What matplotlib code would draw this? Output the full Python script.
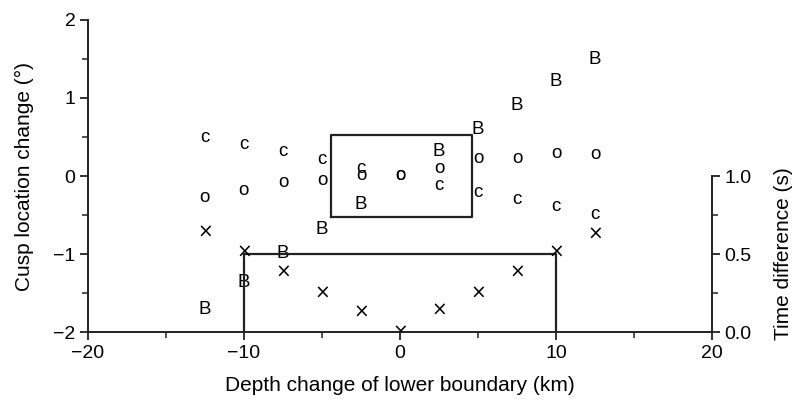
import matplotlib.pyplot as plt
from matplotlib.ticker import MultipleLocator

plt.rcParams["font.family"] = ["Liberation Sans", "DejaVu Sans"]

depth = [-12.5, -10, -7.5, -5, -2.5, 0, 2.5, 5, 7.5, 10, 12.5]
cusp_c = [0.50, 0.40, 0.31, 0.21, 0.10, 0.01, -0.12, -0.21, -0.30, -0.39, -0.49]
cusp_o = [-0.28, -0.19, -0.08, -0.06, 0.01, 0.01, 0.10, 0.22, 0.22, 0.29, 0.28]
depth_b = [-12.5, -10, -7.5, -5, -2.5, 2.5, 5, 7.5, 10, 12.5]
cusp_b = [-1.71, -1.37, -0.99, -0.69, -0.37, 0.31, 0.60, 0.90, 1.21, 1.49]
time_x = [0.64, 0.51, 0.385, 0.25, 0.13, 0.0, 0.14, 0.25, 0.385, 0.51, 0.63]

# boxes
box_x = [-4.4, 4.6]
box_y = [-0.52, 0.52]
time_box_x = [-10, 10]
time_box_y = 0.5

fig = plt.figure(figsize=(7.92, 4.07), dpi=100)
ax = fig.add_axes([0.111, 0.184, 0.788, 0.767])
ax2 = ax.twinx()

ax.set_xlim(-20, 20)
ax.set_ylim(-2, 2)
ax2.set_ylim(0, 2)

fs = 13.5
for x, y in zip(depth, cusp_c):
    ax.text(x, y, "c", ha="center", va="center", fontsize=fs)
for x, y in zip(depth, cusp_o):
    ax.text(x, y, "o", ha="center", va="center", fontsize=fs)
for x, y in zip(depth_b, cusp_b):
    ax.text(x, y, "B", ha="center", va="center", fontsize=fs)
for x, t in zip(depth, time_x):
    ax2.text(x, t, "\u00d7", ha="center", va="center", fontsize=fs,
             clip_on=True, family="DejaVu Sans")

lc = "#222222"
ax.plot([box_x[0], box_x[1], box_x[1], box_x[0], box_x[0]],
        [box_y[0], box_y[0], box_y[1], box_y[1], box_y[0]], color=lc, lw=1.6)
ax2.plot([time_box_x[0], time_box_x[0], time_box_x[1], time_box_x[1]],
         [0, time_box_y, time_box_y, 0], color=lc, lw=1.6)

for a in (ax, ax2):
    a.spines["top"].set_visible(False)
    for s in a.spines.values():
        s.set_linewidth(1.4)
        s.set_color(lc)
ax.spines["right"].set_visible(False)
ax2.spines["left"].set_visible(False)
ax2.spines["bottom"].set_visible(False)
ax2.spines["right"].set_bounds(0, 1)

ax.set_xticks([-20, -10, 0, 10, 20])
ax.set_xticklabels(["\u221220", "\u221210", "0", "10", "20"])
ax.xaxis.set_minor_locator(MultipleLocator(5))
ax.set_yticks([-2, -1, 0, 1, 2])
ax.set_yticklabels(["\u22122", "\u22121", "0", "1", "2"])
ax.yaxis.set_minor_locator(MultipleLocator(0.5))
ax2.set_yticks([0, 0.5, 1.0])
ax2.set_yticklabels(["0.0", "0.5", "1.0"])
ax2.set_yticks([0.25, 0.75], minor=True)

for a in (ax, ax2):
    a.tick_params(which="major", length=6, width=1.3, color=lc, labelsize=14, pad=3)
    a.tick_params(which="minor", length=4, width=1.1, color=lc)

ax.set_xlabel("Depth change of lower boundary (km)", fontsize=15, labelpad=10)
ax.set_ylabel("Cusp location change (\u00b0)", fontsize=15)
ax.yaxis.set_label_coords(-0.087, 0.5)
ax2.set_ylabel("Time difference (s)", fontsize=15)
ax2.yaxis.set_label_coords(1.1, 0.25)

fig.savefig("out.png", dpi=100)
